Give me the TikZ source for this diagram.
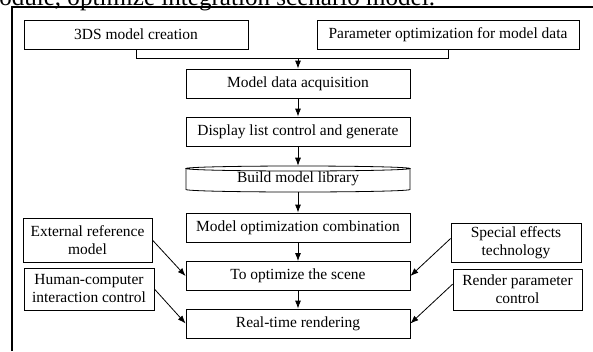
\documentclass[tikz,border=0pt]{standalone}
\usepackage{fontspec}
\setmainfont{Liberation Serif}
\usetikzlibrary{arrows.meta}
\newcommand\boxfont{\fontsize{11.6}{13.5}\selectfont}
\tikzset{
  box/.style={draw, line width=0.6pt, inner sep=0pt, align=center, font=\boxfont},
  conn/.style={line width=0.6pt},
  arr/.style={line width=0.6pt, -{Latex[length=6pt,width=4.5pt]}},
  frameline/.style={line width=0.9pt}
}
\begin{document}
\begin{tikzpicture}[x=0.75pt,y=-0.75pt]
\useasboundingbox (0,0) rectangle (593,351);
\clip (0,0) rectangle (593,351);
% caption (cut at top, as in the reference)
\node[anchor=base west, inner sep=0pt, font=\fontsize{18.8}{20}\selectfont] (cap) at (-1,5) {odule, optimize integration scenario model.};
% frame
\draw[frameline] (12,351) -- (12,7) -- (593,7);
% boxes
\node[box, minimum width=168pt, minimum height=21.75pt] (b1) at (136,34.5) {3DS model creation};
\node[box, minimum width=196.5pt, minimum height=21.75pt] (b2) at (448,34.5) {Parameter optimization for model data};
\node[box, minimum width=168pt, minimum height=21.75pt] (b3) at (298,83.5) {Model data acquisition};
\node[box, minimum width=168pt, minimum height=21.75pt] (b4) at (298,131.5) {Display list control and generate};
\node[inner sep=0pt, font=\boxfont, minimum width=168pt, minimum height=19.5pt] (b5) at (298,179) {Build model library};
\draw[line width=0.6pt] (298,168.5) ellipse [x radius=112, y radius=2.5];
\draw[line width=0.6pt] (186,168.5) -- (186,189.5) arc [start angle=180, end angle=0, x radius=112, y radius=2.5] -- (410,168.5);
\node[box, minimum width=168pt, minimum height=21.75pt] (b6) at (298,227.5) {Model optimization combination};
\node[box, minimum width=168pt, minimum height=21.75pt] (b7) at (298,276) {To optimize the scene};
\node[box, minimum width=168pt, minimum height=21.75pt] (b8) at (298,323.5) {Real-time rendering};
\node[box, minimum width=96.75pt, minimum height=33pt] (l1) at (87.5,240) {External reference\\model};
\node[box, minimum width=97.5pt, minimum height=31.5pt] (l2) at (89,289) {Human-computer\\interaction control};
\node[box, minimum width=97.5pt, minimum height=29.25pt] (r1) at (516,242.5) {Special effects\\technology};
\node[box, minimum width=96.75pt, minimum height=30.75pt] (r2) at (517.5,289.5) {Render parameter\\control};
% connectors
\coordinate (j) at (298,58);
\draw[conn] (b1.south) |- (j);
\draw[conn] (b2.south) |- (j);
\draw[arr] (j) -- (b3.north);
\draw[arr] (b3) -- (b4);
\draw[arr] (b4) -- (b5.north);
\coordinate (b5s) at (298,192);
\draw[arr] (b5s) -- (b6);
\draw[arr] (b6) -- (b7);
\draw[arr] (b7) -- (b8);
\draw[arr] (l1.east) -- (b7.west);
\draw[arr] (l2.east) -- (b8.west);
\draw[arr] ([yshift=3pt]r1.west) -- (b7.east);
\draw[arr] ([yshift=4pt]r2.west) -- (b8.east);
\end{tikzpicture}
\end{document}
